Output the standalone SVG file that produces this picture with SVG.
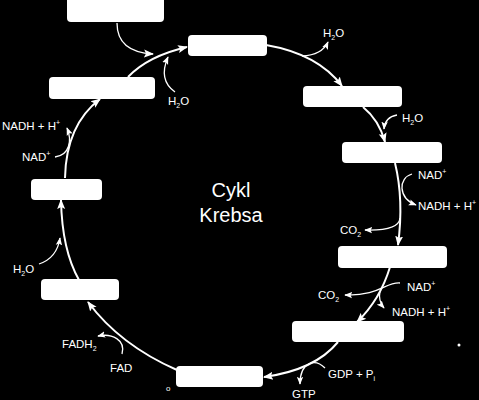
<svg xmlns="http://www.w3.org/2000/svg" width="479" height="400" viewBox="0 0 479 400">
<defs>
<style>
.box{fill:#fff}
.main{fill:none;stroke:#fff;stroke-width:2}
.side{fill:none;stroke:#fff;stroke-width:1.3}
.lbl{fill:#fff;font-family:"Liberation Sans",Arial,sans-serif;font-size:11.5px}
.sm{font-size:7px}
.title{fill:#fff;font-family:"Liberation Sans",Arial,sans-serif;font-size:20px;text-anchor:middle}
</style>
<marker id="ah" markerUnits="userSpaceOnUse" markerWidth="10" markerHeight="10" viewBox="0 0 10 10" refX="9" refY="5" orient="auto">
<path d="M0,1 L10,5 L0,9 L2,5 Z" fill="#fff"/>
</marker>
<marker id="as" markerUnits="userSpaceOnUse" markerWidth="8" markerHeight="8" viewBox="0 0 10 10" refX="9" refY="5" orient="auto">
<path d="M0,1 L10,5 L0,9 L2,5 Z" fill="#fff"/>
</marker>
</defs>
<rect width="479" height="400" fill="#000"/>

<g id="n1"><rect class="box" x="67" y="-4" width="97" height="26" rx="4"/></g>
<g id="n2"><rect class="box" x="188" y="35" width="79" height="21" rx="4"/></g>
<g id="n3"><rect class="box" x="49" y="77" width="106" height="22" rx="4"/></g>
<g id="n4"><rect class="box" x="303" y="86" width="99" height="21" rx="4"/></g>
<g id="n5"><rect class="box" x="342" y="142" width="100" height="21" rx="4"/></g>
<g id="n6"><rect class="box" x="31" y="179" width="71" height="21" rx="4"/></g>
<g id="n7"><rect class="box" x="41" y="279" width="78" height="21" rx="4"/></g>
<g id="n8"><rect class="box" x="176" y="366" width="87" height="21" rx="4"/></g>
<g id="n9"><rect class="box" x="338" y="246" width="109" height="22" rx="4"/></g>
<g id="n10"><rect class="box" x="292" y="321" width="112" height="21" rx="4"/></g>

<g id="connectors">
<path class="main" d="M128,77 Q148,56 187,47" marker-end="url(#ah)"/>
<path class="side" d="M117,23 Q117,52 153,54" marker-end="url(#ah)"/>
<path class="side" d="M175,92 Q158,80 168,57" marker-end="url(#as)"/>
<path class="main" d="M266,45 Q318,54 342,86" marker-end="url(#ah)"/>
<path class="side" d="M302,56 Q322,55 328,42" marker-end="url(#as)"/>
<path class="main" d="M363,107 Q379,120 385,142" marker-end="url(#ah)"/>
<path class="side" d="M397,115 Q385,117 384,129" marker-end="url(#as)"/>
<path class="main" d="M395,163 Q404,200 398,245" marker-end="url(#ah)"/>
<path class="side" d="M412,174 C398,178 398,198 416,205" marker-end="url(#as)"/>
<path class="side" d="M400,218 Q399,231 365,230" marker-end="url(#as)"/>
<path class="main" d="M390,267 Q380,300 357,322" marker-end="url(#ah)"/>
<path class="side" d="M400,283 C385,282 380,296 345,295" marker-end="url(#as)"/>
<path class="side" d="M380,291 Q378,301 384,308" marker-end="url(#as)"/>
<path class="main" d="M338,342 Q315,370 264,377" marker-end="url(#ah)"/>
<path class="side" d="M325,368 C315,358 300,362 300,384" marker-end="url(#as)"/>
<path class="main" d="M177,370 Q120,345 88,302" marker-end="url(#ah)"/>
<path class="side" d="M122,354 C126,340 112,333 98,336" marker-end="url(#as)"/>
<path class="main" d="M79,280 Q62,250 61,200" marker-end="url(#ah)"/>
<path class="side" d="M39,264 Q57,258 60,238" marker-end="url(#as)"/>
<path class="main" d="M65,178 Q66,125 100,99" marker-end="url(#ah)"/>
<path class="side" d="M55,157 C70,155 72,140 67,128" marker-end="url(#as)"/>
</g>

<g id="labels">
<text class="title" x="231" y="197">Cykl</text>
<text class="title" x="231" y="222">Krebsa</text>
<text class="lbl" x="168" y="105">H<tspan class="sm" dy="3">2</tspan><tspan dy="-3">O</tspan></text>
<text class="lbl" x="323" y="37">H<tspan class="sm" dy="3">2</tspan><tspan dy="-3">O</tspan></text>
<text class="lbl" x="402" y="122">H<tspan class="sm" dy="3">2</tspan><tspan dy="-3">O</tspan></text>
<text class="lbl" x="418" y="179">NAD<tspan class="sm" dy="-5">+</tspan></text>
<text class="lbl" x="418" y="210">NADH + H<tspan class="sm" dy="-5">+</tspan></text>
<text class="lbl" x="340" y="234">CO<tspan class="sm" dy="3">2</tspan></text>
<text class="lbl" x="407" y="291">NAD<tspan class="sm" dy="-5">+</tspan></text>
<text class="lbl" x="318" y="299">CO<tspan class="sm" dy="3">2</tspan></text>
<text class="lbl" x="392" y="316">NADH + H<tspan class="sm" dy="-5">+</tspan></text>
<text class="lbl" x="328" y="378">GDP + P<tspan class="sm" dy="3">i</tspan></text>
<text class="lbl" x="292" y="398">GTP</text>
<text class="lbl" x="110" y="372">FAD</text>
<text class="lbl" x="62" y="348">FADH<tspan class="sm" dy="3">2</tspan></text>
<text class="lbl" x="13" y="273">H<tspan class="sm" dy="3">2</tspan><tspan dy="-3">O</tspan></text>
<text class="lbl" x="22" y="161">NAD<tspan class="sm" dy="-5">+</tspan></text>
<text class="lbl" x="2" y="130">NADH + H<tspan class="sm" dy="-5">+</tspan></text>
<text class="lbl" x="166" y="391" style="font-size:8px">o</text>
<circle cx="459" cy="345" r="1.5" fill="#fff"/>
</g>
</svg>
